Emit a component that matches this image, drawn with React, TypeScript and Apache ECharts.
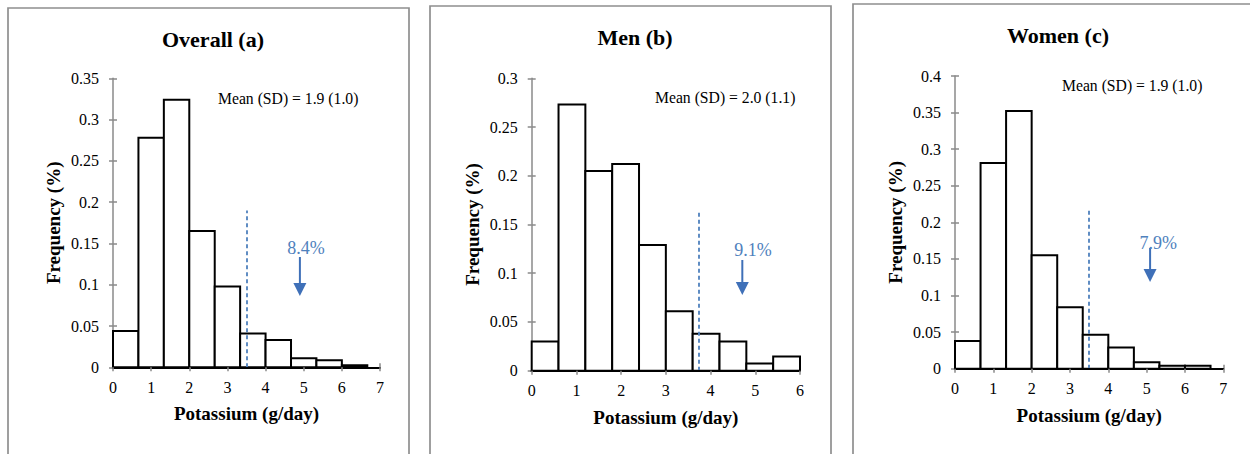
import React, { useEffect, useRef } from "react";
import * as echarts from "echarts";

// ---- data ----
const edgesOverall = [0, 0.667, 1.333, 2, 2.667, 3.333, 4, 4.667, 5.333, 6, 6.667];
const freqOverall = [0.044, 0.278, 0.324, 0.165, 0.098, 0.041, 0.033, 0.011, 0.0085, 0.0025];

const edgesMen = [0, 0.6, 1.2, 1.8, 2.4, 3.0, 3.6, 4.2, 4.8, 5.4, 6.0];
const freqMen = [0.03, 0.273, 0.205, 0.212, 0.129, 0.061, 0.038, 0.03, 0.0075, 0.0145];

const edgesWomen = [0, 0.667, 1.333, 2, 2.667, 3.333, 4, 4.667, 5.333, 6, 6.667];
const freqWomen = [0.038, 0.281, 0.352, 0.155, 0.084, 0.0465, 0.029, 0.0087, 0.004, 0.004];

const titles = ["Overall (a)", "Men (b)", "Women (c)"];
const meanTexts = ["Mean (SD) = 1.9 (1.0)", "Mean (SD) = 2.0 (1.1)", "Mean (SD) = 1.9 (1.0)"];
const pctTexts = ["8.4%", "9.1%", "7.9%"];
const xMaxes = [7, 6, 7];
const yMaxes = [0.35, 0.3, 0.4];
// cut-off dashed line: [x, top]
const cutLines = [
  [3.5, 0.19],
  [3.73, 0.165],
  [3.5, 0.218],
];
// arrow: [x, top, tip, textX, textY]
const arrows = [
  [4.9, 0.1336, 0.0864, 5.06, 0.1445],
  [4.71, 0.1136, 0.0777, 4.95, 0.1238],
  [5.09, 0.165, 0.1185, 5.3, 0.1718],
];

const edgesList = [edgesOverall, edgesMen, edgesWomen];
const freqList = [freqOverall, freqMen, freqWomen];

// ---- layout ----
const FONT = "Liberation Serif";
const grids = [
  { left: 113, top: 78.3, width: 267, height: 289 },
  { left: 531.7, top: 78.3, width: 268.3, height: 292.4 },
  { left: 955, top: 76, width: 268.3, height: 292.7 },
];
const titlePos = [
  [213, 39],
  [635, 37],
  [1058, 35],
];
const meanPos = [
  [218, 98],
  [655, 97],
  [1062, 85],
];
const boxes = [
  { x: 8, y: 8, w: 401 },
  { x: 430, y: 6, w: 401 },
  { x: 853, y: 4, w: 410 },
];

const AXIS_GRAY = "#8a8a8a";
const BLUE_TEXT = "#4f81bd";
const BLUE_ARROW = "#3f70b8";

function buildOption() {
  const xAxis: any[] = [];
  const yAxis: any[] = [];
  const series: any[] = [];
  const graphic: any[] = [];

  for (let i = 0; i < 3; i++) {
    const xm = xMaxes[i];
    const ym = yMaxes[i];
    xAxis.push({
      type: "value",
      gridIndex: i,
      min: 0,
      max: xm,
      interval: 1,
      splitLine: { show: false },
      axisLine: { show: true, onZero: false, lineStyle: { color: "#000", width: 2 } },
      axisTick: { show: true, inside: false, length: 4, lineStyle: { color: AXIS_GRAY, width: 1.5 } },
      axisLabel: { color: "#000", fontSize: 16, fontFamily: FONT, margin: 12 },
      name: "Potassium (g/day)",
      nameLocation: "middle",
      nameGap: 37,
      nameTextStyle: { color: "#000", fontSize: 19, fontWeight: "bold", fontFamily: FONT },
      z: 5,
    });
    xAxis.push({
      type: "value",
      gridIndex: i,
      min: 0,
      max: xm,
      interval: 1,
      position: "bottom",
      splitLine: { show: false },
      axisLine: { show: false },
      axisTick: { show: true, inside: true, length: 4, lineStyle: { color: AXIS_GRAY, width: 1.5 } },
      axisLabel: { show: false },
    });
    yAxis.push({
      type: "value",
      gridIndex: i,
      min: 0,
      max: ym,
      interval: 0.05,
      splitLine: { show: false },
      axisLine: { show: true, onZero: false, lineStyle: { color: AXIS_GRAY, width: 1.5 } },
      axisTick: { show: true, inside: false, length: 4, lineStyle: { color: AXIS_GRAY, width: 1.5 } },
      axisLabel: { color: "#000", fontSize: 16, fontFamily: FONT, margin: 14 },
      name: "Frequency (%)",
      nameLocation: "middle",
      nameRotate: 90,
      nameGap: 50,
      nameTextStyle: { color: "#000", fontSize: 19, fontWeight: "bold", fontFamily: FONT },
    });
    yAxis.push({
      type: "value",
      gridIndex: i,
      min: 0,
      max: ym,
      interval: 0.05,
      position: "left",
      splitLine: { show: false },
      axisLine: { show: false },
      axisTick: { show: true, inside: true, length: 4, lineStyle: { color: AXIS_GRAY, width: 1.5 } },
      axisLabel: { show: false },
    });

    const edges = edgesList[i];
    const freq = freqList[i];
    const barData = freq.map((f, k) => [edges[k], edges[k + 1], f]);

    series.push({
      type: "custom",
      xAxisIndex: 2 * i,
      yAxisIndex: 2 * i,
      z: 2,
      silent: true,
      encode: { x: [0, 1], y: 2 },
      data: barData,
      renderItem: (params: any, api: any) => {
        const p0 = api.coord([api.value(0), 0]);
        const p1 = api.coord([api.value(1), api.value(2)]);
        return {
          type: "rect",
          shape: { x: p0[0], y: p1[1], width: p1[0] - p0[0], height: p0[1] - p1[1] },
          style: { fill: "#fff", stroke: "#000", lineWidth: 2 },
        };
      },
      markLine: {
        silent: true,
        symbol: ["none", "none"],
        label: { show: false },
        lineStyle: { color: BLUE_TEXT, type: [4, 3], width: 1.8 },
        z: 4,
        data: [[{ coord: [cutLines[i][0], 0] }, { coord: [cutLines[i][0], cutLines[i][1]] }]],
      },
    });

    const pct = pctTexts[i];
    series.push({
      type: "custom",
      xAxisIndex: 2 * i,
      yAxisIndex: 2 * i,
      z: 4,
      silent: true,
      data: [arrows[i]],
      renderItem: (params: any, api: any) => {
        const top = api.coord([api.value(0), api.value(1)]);
        const tip = api.coord([api.value(0), api.value(2)]);
        const tp = api.coord([api.value(3), api.value(4)]);
        const hh = 13;
        const hw = 13;
        return {
          type: "group",
          children: [
            {
              type: "line",
              shape: { x1: top[0], y1: top[1], x2: tip[0], y2: tip[1] - hh + 1 },
              style: { stroke: BLUE_ARROW, lineWidth: 2 },
            },
            {
              type: "polygon",
              shape: {
                points: [
                  [tip[0] - hw / 2, tip[1] - hh],
                  [tip[0] + hw / 2, tip[1] - hh],
                  [tip[0], tip[1]],
                ],
              },
              style: { fill: BLUE_ARROW },
            },
            {
              type: "text",
              x: tp[0],
              y: tp[1],
              style: {
                text: pct,
                fill: BLUE_TEXT,
                fontSize: 18,
                fontFamily: FONT,
                align: "center",
                verticalAlign: "middle",
              },
            },
          ],
        };
      },
    });

    graphic.push({
      type: "rect",
      shape: { x: boxes[i].x, y: boxes[i].y, width: boxes[i].w, height: 470 },
      style: { fill: "none", stroke: "#8f8f8f", lineWidth: 1.7 },
      silent: true,
      z: 0,
    });
    graphic.push({
      type: "text",
      x: titlePos[i][0],
      y: titlePos[i][1],
      style: {
        text: titles[i],
        fill: "#000",
        fontSize: 22,
        fontWeight: "bold",
        fontFamily: FONT,
        align: "center",
        verticalAlign: "middle",
      },
      silent: true,
    });
    graphic.push({
      type: "text",
      x: meanPos[i][0],
      y: meanPos[i][1],
      style: {
        text: meanTexts[i],
        fill: "#000",
        fontSize: 15.7,
        fontFamily: FONT,
        align: "left",
        verticalAlign: "middle",
      },
      silent: true,
    });
  }

  return {
    animation: false,
    backgroundColor: "#fff",
    textStyle: { fontFamily: FONT },
    grid: grids,
    xAxis,
    yAxis,
    series,
    graphic,
  };
}

export default function App() {
  const ref = useRef<HTMLDivElement>(null);
  useEffect(() => {
    if (!ref.current) return;
    const chart = echarts.init(ref.current, null, { renderer: "svg" });
    chart.setOption(buildOption() as any);
    return () => chart.dispose();
  }, []);
  return (
    <div
      ref={ref}
      style={{ position: "fixed", left: 0, top: 0, width: 1250, height: 454, background: "#fff" }}
    />
  );
}
